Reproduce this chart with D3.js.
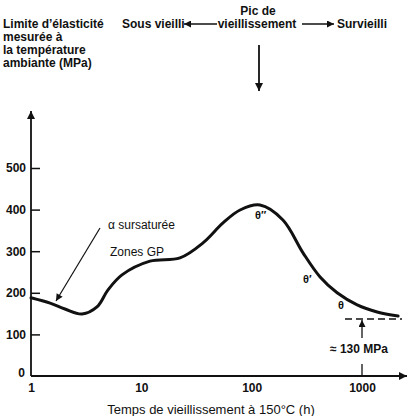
<!DOCTYPE html>
<html><head><meta charset="utf-8">
<script src="https://cdn.jsdelivr.net/npm/d3@7"></script>
<style>
html,body{margin:0;padding:0;background:#fff;}
svg{display:block;font-family:"Liberation Sans",Arial,Helvetica,sans-serif;}
</style></head>
<body>
<script>
// Data
const times = [1, 1.49, 2.03, 2.9, 3.96, 4.99, 6.68, 11.98, 22.4, 36.2, 55, 78.5, 119, 192, 292, 417, 595, 904, 1372, 2124];
const strength = [188, 175, 161, 149, 166, 207, 243, 276, 284, 320, 368, 399, 411, 375, 296, 238, 200, 171, 154, 144];
const xTicks = [1, 10, 100, 1000];
const yTicks = [100, 200, 300, 400, 500];
const limitValue = 137;

const W = 413, H = 416;
const svg = d3.select("body").append("svg").attr("width", W).attr("height", H);

const defs = svg.append("defs");
defs.append("marker").attr("id","ah").attr("viewBox","0 0 10 10").attr("refX",10).attr("refY",5)
  .attr("markerWidth",9).attr("markerHeight",8).attr("markerUnits","userSpaceOnUse").attr("orient","auto")
  .append("path").attr("d","M0,0L10,5L0,10Z").attr("fill","#111");
defs.append("marker").attr("id","ahs").attr("viewBox","0 0 10 10").attr("refX",10).attr("refY",5)
  .attr("markerWidth",8).attr("markerHeight",7).attr("markerUnits","userSpaceOnUse").attr("orient","auto")
  .append("path").attr("d","M0,0L10,5L0,10Z").attr("fill","#111");

const x = d3.scaleLog().domain([1, 1000]).range([31, 362]);
const y = d3.scaleLinear().domain([0, 500]).range([376, 168]);

// axes lines with arrows
svg.append("line").attr("x1", x(1)).attr("y1", y(0)).attr("x2", 407).attr("y2", y(0))
  .attr("stroke","#111").attr("stroke-width",1.8).attr("marker-end","url(#ah)");
svg.append("line").attr("x1", x(1)).attr("y1", y(0)).attr("x2", x(1)).attr("y2", 111)
  .attr("stroke","#111").attr("stroke-width",1.8).attr("marker-end","url(#ah)");

// y ticks
const yAxis = d3.axisLeft(y).tickValues(yTicks).tickSize(0).tickPadding(5);
const gy = svg.append("g").attr("transform", `translate(${x(1)},0)`).call(yAxis);
gy.select(".domain").remove();
gy.selectAll("text").attr("font-size",12).attr("font-weight","bold").attr("fill","#111")
  .attr("font-family","Liberation Sans, Arial, sans-serif");
gy.selectAll(".tick").append("line").attr("x1",0).attr("x2",9).attr("stroke","#111").attr("stroke-width",1.5);

// zero label
svg.append("text").attr("x", x(1)-6).attr("y", y(0)+1).attr("text-anchor","end")
  .attr("font-size",12).attr("font-weight","bold").attr("fill","#111").text("0");

// x ticks
const xAxis = d3.axisBottom(x).tickValues(xTicks).tickFormat(d3.format("d")).tickSize(0).tickPadding(7);
const gx = svg.append("g").attr("transform", `translate(0,${y(0)})`).call(xAxis);
gx.select(".domain").remove();
gx.selectAll("text").attr("font-size",12).attr("font-weight","bold").attr("fill","#111")
  .attr("font-family","Liberation Sans, Arial, sans-serif");

// tick at 1000
svg.append("line").attr("x1", x(1000)).attr("x2", x(1000)).attr("y1", y(0)).attr("y2", y(0)-12)
  .attr("stroke","#111").attr("stroke-width",1.3);

// curve
const data = times.map((t,i)=>({t, v: strength[i]}));
const line = d3.line().x(d=>x(d.t)).y(d=>y(d.v)).curve(d3.curveCatmullRom.alpha(0.5));
svg.append("path").datum(data).attr("d", line).attr("fill","none").attr("stroke","#111")
  .attr("stroke-width",3).attr("stroke-linecap","round");

// dashed limit line
svg.append("line").attr("x1", 345).attr("x2", 402).attr("y1", y(limitValue)).attr("y2", y(limitValue))
  .attr("stroke","#111").attr("stroke-width",1.3).attr("stroke-dasharray","7,4");
// arrow up to limit
svg.append("line").attr("x1", x(1000)).attr("x2", x(1000)).attr("y1", y(limitValue)+19).attr("y2", y(limitValue)+1)
  .attr("stroke","#111").attr("stroke-width",1.3).attr("marker-end","url(#ahs)");

const txt = (xx, yy, s, opts={}) => svg.append("text").attr("x", xx).attr("y", yy)
  .attr("font-size", opts.size || 11).attr("font-weight", opts.weight || "normal")
  .attr("text-anchor", opts.anchor || "start").attr("fill","#111").text(s);

txt(330, 353, "≈ 130 MPa", {size:12, weight:"bold"});

// y-axis title
const ytitle = ["Limite d’élasticité","mesurée à","la température","ambiante (MPa)"];
ytitle.forEach((s,i)=>txt(3, 28 + i*13, s, {size:12, weight:"bold"}));

// top annotations
txt(258, 15, "Pic de", {anchor:"middle", size:12, weight:"bold"});
txt(257, 28, "vieillissement", {anchor:"middle", size:12, weight:"bold"});
txt(122, 28, "Sous vieilli", {size:12, weight:"bold"});
txt(337, 28, "Survieilli", {size:12, weight:"bold"});
svg.append("line").attr("x1",217).attr("x2",184).attr("y1",24).attr("y2",24)
  .attr("stroke","#111").attr("stroke-width",1.5).attr("marker-end","url(#ahs)");
svg.append("line").attr("x1",302).attr("x2",334).attr("y1",24).attr("y2",24)
  .attr("stroke","#111").attr("stroke-width",1.5).attr("marker-end","url(#ahs)");
svg.append("line").attr("x1",259).attr("x2",259).attr("y1",45).attr("y2",91)
  .attr("stroke","#111").attr("stroke-width",1.8).attr("marker-end","url(#ah)");

// phase labels
txt(108, 229, "α sursaturée", {size:12});
txt(110, 256, "Zones GP", {size:12});
txt(255, 219, "θ″", {size:11, weight:"bold"});
txt(303, 283, "θ′", {size:11, weight:"bold"});
txt(338, 309, "θ", {size:11, weight:"bold"});
// arrow from α label to curve
svg.append("line").attr("x1",100).attr("y1",228).attr("x2",56).attr("y2",301)
  .attr("stroke","#111").attr("stroke-width",1.2).attr("marker-end","url(#ahs)");

// x-axis title
txt(211, 414, "Temps de vieillissement à 150°C (h)", {anchor:"middle", size:13});
</script>
</body></html>
